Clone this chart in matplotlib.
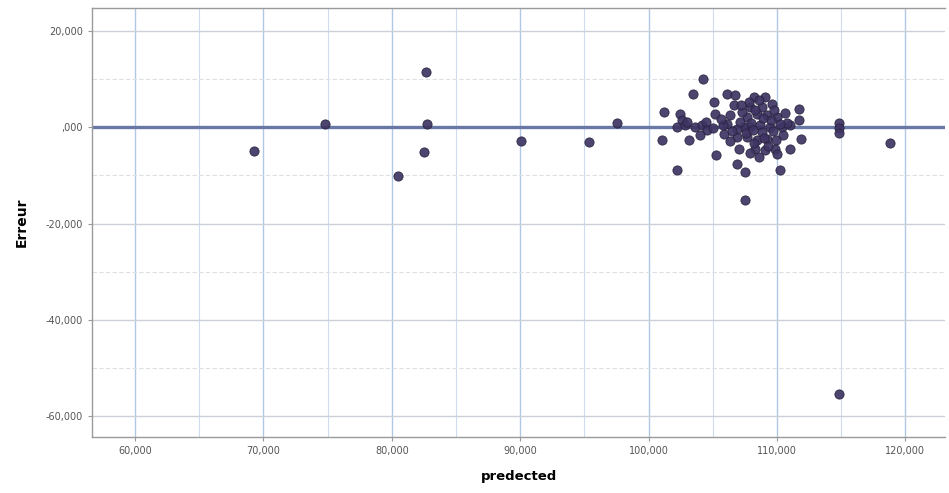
import matplotlib
matplotlib.use("Agg")
import matplotlib.pyplot as plt
from matplotlib.ticker import MultipleLocator

# Predicted values and residuals (Erreur)
predicted = [
    69275, 74810, 80500, 82680, 82525, 82760, 90090, 95390, 97570,
    114800, 118770, 114800, 114800, 114800,
    104250, 103440, 101180, 102480, 102610, 102220, 102870, 103650, 104170,
    104500, 104560, 101050, 103120, 102220, 105130, 105150, 105210, 106120,
    106760, 106630, 106370, 106120, 105850, 106900, 107020, 106900, 107540,
    107540, 108190, 109100, 107930, 108850, 109620, 107670, 108460, 109230,
    110010, 107930, 108710, 109490, 110400, 111040, 107670, 108460, 109230,
    108320, 108580, 109100, 109880, 110010, 111040, 110270, 111700, 111700,
    111830, 107420, 106890, 105830, 105050,
    108000, 108800, 109500, 107300, 110500, 106500, 109800, 108200, 107800,
    110800, 105600, 104000, 103000,
    107100, 107600, 108300, 108900, 109300, 109700, 110200, 108600, 107900,
    109000, 106300, 110600, 108100, 109900, 107200,
]
erreur = [
    -4970, 620, -10150, 11600, -5180, 600, -2900, -3100, 830,
    -55340, -3300, 800, -200, -1200,
    10100, 6980, 3170, 2840, 1450, 60, 410, 60, 410,
    1100, -620, -2690, -2690, -8910, 5240, 2840, -5800, 6980,
    6630, 4560, 2490, 770, -1310, -2010, -4410, -7520, -9260,
    -15130, 6280, 6280, 4210, 4210, 4910, 2130, 2840, 2490,
    2130, 60, 410, 60, 60, 410, -2010, -2690, -2340,
    -4410, -6160, -4770, -4410, -5450, -4410, -8910, 3880, 1450,
    -2340, 60, -300, 410, -200,
    1000, -1000, 1500, 3200, -1500, -800, 3500, -3300, 5200,
    800, 1800, -1500, 1200,
    1200, -1200, 3600, 2000, -3800, -700, 600, 5600, -5400,
    -2200, -2900, 3000, -500, -2600, 4700,
]

x_ticks = [60000, 70000, 80000, 90000, 100000, 110000, 120000]
x_tick_labels = ["60,000", "70,000", "80,000", "90,000", "100,000", "110,000", "120,000"]
y_ticks = [20000, 0, -20000, -40000, -60000]
y_tick_labels = ["20,000", ",000", "-20,000", "-40,000", "-60,000"]

fig = plt.figure(figsize=(9.49, 4.93), dpi=100)
ax = fig.add_axes([0.097, 0.1136, 0.899, 0.8702])

ax.set_xlim(56650, 123100)
ax.set_ylim(-64350, 24800)

# Grid: lines every 5,000 on x and every 10,000 on y
ax.xaxis.set_minor_locator(MultipleLocator(5000))
ax.yaxis.set_minor_locator(MultipleLocator(10000))
ax.set_xticks(x_ticks)
ax.set_xticklabels(x_tick_labels)
ax.set_yticks(y_ticks)
ax.set_yticklabels(y_tick_labels)

ax.grid(True, which="major", axis="x", color="#b0c8e6", linewidth=1.0, zorder=0)
ax.grid(True, which="minor", axis="x", color="#cfdcef", linewidth=0.8, zorder=0)
ax.grid(True, which="major", axis="y", color="#ccd0d8", linewidth=1.0, zorder=0)
ax.grid(True, which="minor", axis="y", color="#dcdfe4", linewidth=0.8, linestyle=(0, (4, 2)), zorder=0)
ax.set_axisbelow(True)

# Zero reference line
ax.axhline(0, color="#6a78a6", linewidth=2.4, zorder=1)

ax.scatter(predicted, erreur, s=44, color="#3f3464", edgecolors="#27233c",
           linewidths=0.6, alpha=0.92, zorder=3)

for side in ("left", "bottom", "top"):
    ax.spines[side].set_color("#9a9a9a")
    ax.spines[side].set_linewidth(1.0)
ax.spines["right"].set_visible(False)

ax.tick_params(axis="both", which="major", labelsize=7, labelcolor="#555555",
               color="#9a9a9a", length=3, width=0.8)
ax.tick_params(axis="both", which="minor", length=0)

ax.set_xlabel("predected", fontsize=9.5, fontweight="bold", labelpad=10)
ax.set_ylabel("Erreur", fontsize=10, fontweight="bold", labelpad=12)

fig.savefig("out.png", dpi=100, facecolor="white")
